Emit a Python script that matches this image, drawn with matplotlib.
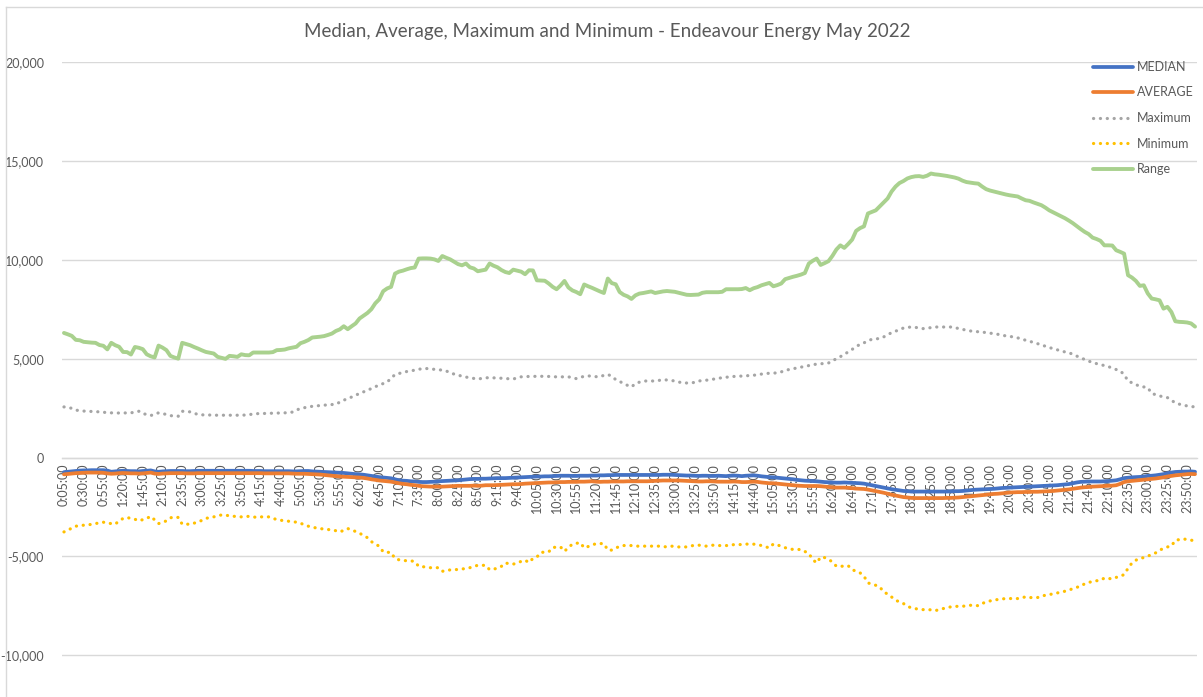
import matplotlib
matplotlib.use("Agg")
import matplotlib.pyplot as plt
import numpy as np

plt.rcParams['font.family'] = ['Lato', 'DejaVu Sans']

TITLE = "Median, Average, Maximum and Minimum - Endeavour Energy May 2022"

# 5-minute intervals 0:05 .. 0:00 (288 points)
times = []
for i in range(288):
    m = 5 * (i + 1)
    times.append(f"{(m // 60) % 24}:{m % 60:02d}:00")

median = [
    -740, -720, -700, -680, -660, -650, -650, -640, -640, -640, -640, -660,
    -720, -700, -680, -670, -680, -690, -690, -700, -680, -670, -650, -700,
    -720, -700, -690, -680, -680, -680, -680, -690, -690, -680, -670, -670,
    -670, -670, -670, -670, -670, -670, -670, -670, -670, -670, -670, -670,
    -680, -680, -680, -690, -690, -690, -690, -690, -690, -690, -700, -700,
    -690, -680, -680, -700, -710, -720, -730, -740, -750, -760, -770, -780,
    -800, -820, -840, -850, -870, -900, -930, -960, -990, -1010, -1030, -1050,
    -1100, -1150, -1170, -1180, -1200, -1210, -1230, -1240, -1240, -1230, -1220, -1200,
    -1190, -1180, -1170, -1160, -1150, -1130, -1110, -1090, -1080, -1080, -1070, -1070,
    -1060, -1050, -1040, -1040, -1040, -1030, -1020, -1010, -1000, -990, -980, -970,
    -960, -960, -950, -950, -940, -930, -920, -920, -920, -930, -930, -920,
    -920, -920, -910, -910, -900, -900, -890, -890, -880, -880, -880, -880,
    -880, -880, -880, -880, -880, -880, -880, -880, -870, -870, -870, -880,
    -890, -900, -910, -910, -920, -930, -920, -920, -930, -930, -920, -930,
    -940, -920, -910, -920, -940, -920, -910, -900, -920, -950, -970, -990,
    -1000, -1020, -1040, -1060, -1080, -1100, -1130, -1150, -1170, -1180, -1190, -1200,
    -1220, -1240, -1250, -1260, -1270, -1270, -1260, -1270, -1280, -1290, -1300, -1320,
    -1360, -1400, -1440, -1480, -1520, -1560, -1600, -1630, -1660, -1690, -1700, -1720,
    -1720, -1720, -1720, -1720, -1720, -1720, -1720, -1720, -1720, -1710, -1700, -1700,
    -1690, -1670, -1650, -1630, -1620, -1610, -1600, -1590, -1580, -1560, -1540, -1530,
    -1520, -1510, -1500, -1490, -1480, -1470, -1460, -1450, -1440, -1430, -1420, -1410,
    -1400, -1380, -1360, -1340, -1300, -1260, -1230, -1220, -1210, -1210, -1210, -1210,
    -1200, -1190, -1170, -1150, -1100, -1040, -1020, -1000, -990, -980, -960, -930,
    -920, -900, -870, -840, -790, -760, -730, -720, -710, -710, -700, -720,
]

average = [
    -850, -830, -810, -790, -780, -770, -760, -760, -760, -760, -770, -800,
    -820, -810, -790, -780, -790, -800, -800, -810, -800, -780, -760, -810,
    -830, -810, -800, -790, -790, -790, -790, -800, -800, -800, -790, -790,
    -790, -790, -790, -790, -790, -790, -790, -790, -790, -790, -790, -790,
    -790, -790, -790, -800, -800, -800, -800, -800, -800, -800, -810, -820,
    -820, -820, -830, -840, -850, -860, -880, -900, -920, -940, -960, -970,
    -980, -990, -1000, -1010, -1030, -1060, -1100, -1130, -1160, -1180, -1200, -1220,
    -1260, -1300, -1330, -1350, -1380, -1400, -1430, -1450, -1460, -1470, -1470, -1470,
    -1470, -1460, -1450, -1440, -1430, -1430, -1430, -1430, -1420, -1430, -1420, -1400,
    -1400, -1400, -1390, -1380, -1370, -1360, -1350, -1350, -1340, -1320, -1310, -1300,
    -1290, -1280, -1270, -1260, -1260, -1250, -1240, -1240, -1230, -1230, -1230, -1220,
    -1220, -1210, -1200, -1220, -1230, -1220, -1220, -1210, -1210, -1210, -1210, -1200,
    -1200, -1200, -1200, -1200, -1200, -1190, -1180, -1170, -1160, -1160, -1160, -1160,
    -1160, -1170, -1180, -1190, -1200, -1210, -1210, -1200, -1200, -1210, -1220, -1220,
    -1220, -1220, -1210, -1220, -1240, -1240, -1230, -1220, -1230, -1260, -1280, -1300,
    -1300, -1320, -1340, -1360, -1380, -1400, -1420, -1430, -1440, -1440, -1440, -1440,
    -1450, -1470, -1490, -1510, -1520, -1520, -1520, -1530, -1550, -1570, -1580, -1590,
    -1620, -1660, -1700, -1740, -1780, -1830, -1880, -1920, -1960, -2000, -2020, -2040,
    -2050, -2050, -2050, -2050, -2050, -2050, -2050, -2050, -2040, -2040, -2030, -2020,
    -2000, -1980, -1960, -1940, -1920, -1900, -1880, -1860, -1840, -1830, -1810, -1790,
    -1770, -1760, -1750, -1750, -1740, -1740, -1730, -1730, -1720, -1710, -1700, -1690,
    -1670, -1650, -1630, -1610, -1580, -1550, -1520, -1500, -1490, -1470, -1460, -1450,
    -1440, -1430, -1420, -1400, -1330, -1240, -1200, -1180, -1160, -1140, -1120, -1100,
    -1080, -1060, -1030, -1000, -960, -930, -900, -880, -860, -840, -830, -840,
]

maximum = [
    2560, 2530, 2490, 2400, 2370, 2350, 2340, 2330, 2320, 2310, 2290, 2270,
    2260, 2260, 2250, 2250, 2260, 2260, 2300, 2340, 2220, 2180, 2120, 2200,
    2260, 2220, 2180, 2120, 2100, 2090, 2340, 2330, 2310, 2250, 2170, 2160,
    2150, 2150, 2140, 2140, 2140, 2140, 2140, 2140, 2140, 2140, 2150, 2170,
    2200, 2220, 2220, 2230, 2240, 2240, 2250, 2250, 2260, 2270, 2300, 2400,
    2480, 2520, 2560, 2590, 2610, 2630, 2650, 2660, 2680, 2700, 2800, 2900,
    2980, 3060, 3150, 3240, 3320, 3400, 3490, 3580, 3670, 3740, 3820, 4000,
    4200, 4250, 4300, 4350, 4380, 4420, 4460, 4500, 4500, 4480, 4460, 4440,
    4420, 4380, 4280, 4220, 4170, 4110, 4070, 4030, 4000, 3970, 4000, 4030,
    4040, 4030, 4020, 4010, 4000, 3980, 3970, 4030, 4080, 4090, 4100, 4100,
    4110, 4110, 4100, 4100, 4090, 4080, 4080, 4080, 4080, 4040, 3990, 4050,
    4110, 4130, 4110, 4090, 4080, 4160, 4200, 4110, 3940, 3850, 3740, 3650,
    3570, 3740, 3810, 3870, 3870, 3870, 3870, 3900, 3940, 3920, 3900, 3870,
    3820, 3770, 3770, 3770, 3800, 3870, 3890, 3910, 3940, 3970, 4000, 4040,
    4060, 4080, 4100, 4110, 4120, 4130, 4150, 4160, 4190, 4220, 4250, 4260,
    4270, 4280, 4330, 4410, 4450, 4490, 4530, 4570, 4610, 4650, 4700, 4720,
    4740, 4760, 4780, 4900, 4990, 5100, 5220, 5340, 5470, 5600, 5730, 5800,
    5900, 5980, 6000, 6020, 6100, 6200, 6320, 6390, 6460, 6550, 6580, 6600,
    6580, 6560, 6520, 6540, 6570, 6600, 6600, 6600, 6600, 6600, 6580, 6520,
    6480, 6440, 6400, 6380, 6360, 6340, 6320, 6290, 6260, 6230, 6190, 6150,
    6120, 6100, 6050, 6000, 5930, 5880, 5820, 5760, 5700, 5630, 5560, 5510,
    5450, 5390, 5340, 5300, 5220, 5130, 5040, 4960, 4880, 4800, 4750, 4700,
    4650, 4600, 4520, 4450, 4380, 4200, 3870, 3780, 3690, 3600, 3570, 3540,
    3240, 3180, 3120, 3060, 3030, 2900, 2760, 2700, 2650, 2610, 2580, 2560,
]

minimum = [
    -3760, -3680, -3560, -3470, -3450, -3420, -3400, -3380, -3340, -3300, -3270, -3310,
    -3340, -3370, -3200, -3080, -3030, -3080, -3120, -3200, -3140, -3080, -2970, -3150,
    -3340, -3280, -3200, -3050, -3000, -3030, -3370, -3370, -3370, -3320, -3250, -3180,
    -3080, -3030, -3000, -2950, -2900, -2920, -2940, -2970, -2980, -3000, -2990, -2970,
    -3000, -3030, -3000, -3000, -3000, -3080, -3130, -3170, -3200, -3220, -3240, -3270,
    -3320, -3400, -3470, -3520, -3560, -3590, -3620, -3640, -3660, -3700, -3760, -3680,
    -3590, -3660, -3740, -3820, -3950, -4050, -4250, -4380, -4480, -4770, -4790, -4800,
    -5110, -5170, -5200, -5220, -5220, -5260, -5500, -5520, -5540, -5570, -5570, -5570,
    -5750, -5720, -5680, -5670, -5660, -5640, -5600, -5570, -5500, -5450, -5450, -5450,
    -5670, -5640, -5600, -5500, -5330, -5370, -5390, -5330, -5250, -5190, -5310, -5100,
    -5030, -4800, -4780, -4770, -4550, -4530, -4520, -4740, -4550, -4380, -4340, -4300,
    -4570, -4500, -4430, -4350, -4350, -4350, -4680, -4680, -4570, -4500, -4450, -4450,
    -4450, -4480, -4480, -4480, -4480, -4480, -4480, -4480, -4500, -4520, -4480, -4490,
    -4520, -4520, -4520, -4480, -4430, -4430, -4450, -4480, -4440, -4430, -4450, -4450,
    -4450, -4450, -4400, -4400, -4400, -4380, -4370, -4380, -4400, -4450, -4510, -4570,
    -4370, -4420, -4480, -4560, -4600, -4650, -4650, -4650, -4750, -4850, -5160, -5330,
    -5030, -5060, -5150, -5280, -5500, -5500, -5490, -5470, -5670, -5750, -5830, -6000,
    -6340, -6400, -6460, -6540, -6800, -6900, -7050, -7210, -7300, -7380, -7520, -7600,
    -7640, -7670, -7690, -7690, -7700, -7740, -7700, -7640, -7600, -7550, -7530, -7520,
    -7520, -7500, -7470, -7480, -7490, -7380, -7300, -7250, -7200, -7180, -7150, -7130,
    -7130, -7130, -7130, -7100, -7040, -7080, -7080, -7080, -7020, -6960, -6930, -6890,
    -6850, -6800, -6760, -6700, -6630, -6560, -6510, -6380, -6320, -6260, -6230, -6210,
    -6090, -6110, -6140, -6060, -6000, -5920, -5600, -5330, -5190, -5100, -5060, -4990,
    -4900, -4820, -4680, -4600, -4520, -4480, -4180, -4150, -4110, -4150, -4180, -4200,
]

range_vals = [
    6300, 6230, 6150, 5950, 5930, 5850, 5830, 5810, 5800, 5690, 5650, 5470,
    5800, 5680, 5600, 5340, 5330, 5210, 5590, 5550, 5480, 5220, 5120, 5060,
    5660, 5560, 5430, 5140, 5060, 5000, 5800, 5740, 5680, 5590, 5510, 5420,
    5340, 5300, 5260, 5090, 5040, 4990, 5140, 5120, 5090, 5220, 5180, 5170,
    5310, 5310, 5310, 5310, 5310, 5330, 5430, 5440, 5460, 5520, 5560, 5600,
    5780, 5850, 5940, 6070, 6090, 6110, 6140, 6200, 6270, 6400, 6480, 6640,
    6490, 6640, 6780, 7030, 7170, 7310, 7500, 7800, 8000, 8410, 8550, 8630,
    9300, 9400, 9450, 9520, 9580, 9610, 10060, 10070, 10070, 10060, 10020, 9940,
    10190, 10100, 10020, 9900, 9780, 9720, 9810, 9620, 9560, 9420, 9460, 9500,
    9810, 9700, 9620, 9480, 9380, 9330, 9500, 9450, 9400, 9270, 9470, 9460,
    8960, 8950, 8940, 8800, 8630, 8510, 8700, 8930, 8600, 8450, 8370, 8260,
    8750, 8660, 8580, 8490, 8400, 8320, 9050, 8820, 8760, 8370, 8230, 8150,
    8020, 8200, 8290, 8320, 8360, 8400, 8320, 8360, 8400, 8420, 8400, 8380,
    8330, 8280, 8230, 8220, 8230, 8240, 8330, 8360, 8360, 8360, 8360, 8380,
    8510, 8510, 8510, 8510, 8520, 8570, 8460, 8560, 8620, 8710, 8770, 8830,
    8660, 8720, 8800, 9020, 9080, 9140, 9190, 9250, 9330, 9810, 9950, 10060,
    9740, 9830, 9930, 10200, 10520, 10730, 10600, 10800, 11020, 11460, 11600, 11690,
    12340, 12420, 12500, 12700, 12900, 13100, 13450, 13700, 13880, 13980, 14110, 14180,
    14220, 14230, 14190, 14250, 14360, 14320, 14300, 14270, 14240, 14200, 14160, 14100,
    14000, 13930, 13900, 13870, 13850, 13700, 13570, 13500, 13450, 13400, 13350, 13300,
    13260, 13230, 13200, 13100, 13010, 12980, 12900, 12830, 12760, 12640, 12500, 12400,
    12300, 12200, 12100, 11980, 11850, 11700, 11550, 11410, 11300, 11120, 11050, 10960,
    10730, 10730, 10720, 10480, 10400, 10310, 9220, 9100, 8930, 8680, 8710, 8300,
    8040, 8000, 7950, 7530, 7620, 7360, 6890, 6860, 6850, 6830, 6780, 6620,
]

y_ticks = [-10000, -5000, 0, 5000, 10000, 15000, 20000]

TXT = '#595959'
GRID = '#D9D9D9'

fig = plt.figure(figsize=(12.03, 6.97), dpi=100)
# axes: 20,000 at y=62px, -10,000 at y=655px -> bottom (-15,000) below the picture
ax = fig.add_axes([62 / 1203, 1 - 754.2 / 697, (1197 - 62) / 1203, (754.2 - 62) / 697])

x = np.arange(len(times))
dot = (0, (0.05, 2.1))
ax.plot(x, median, color='#4472C4', lw=2.7, label='MEDIAN', zorder=3, solid_capstyle='round')
ax.plot(x, average, color='#ED7D31', lw=2.7, label='AVERAGE', zorder=4, solid_capstyle='round')
ax.plot(x, maximum, color='#A5A5A5', lw=2.3, ls=dot, dash_capstyle='round', label='Maximum', zorder=5)
ax.plot(x, minimum, color='#FFC000', lw=2.3, ls=dot, dash_capstyle='round', label='Minimum', zorder=6)
ax.plot(x, range_vals, color='#A9D18E', lw=2.8, label='Range', zorder=7, solid_capstyle='round')

ax.set_xlim(-0.5, len(times) - 0.5)
ax.set_ylim(-15000, 20000)
ax.set_yticks(y_ticks)
ax.set_yticklabels([f"{v:,}" for v in y_ticks])
ax.set_yticks([-15000], minor=True)
ax.yaxis.grid(True, which='both', color=GRID, lw=1)
ax.set_axisbelow(True)

ax.set_xticks(x[::5])
ax.set_xticklabels(times[::5])

for s in ['top', 'right', 'left']:
    ax.spines[s].set_visible(False)
ax.spines['bottom'].set_position(('data', 0))
ax.spines['bottom'].set_color(GRID)
ax.spines['bottom'].set_linewidth(1)
ax.tick_params(axis='both', which='both', length=0, colors=TXT, labelsize=9)
ax.tick_params(axis='y', pad=13)
ax.tick_params(axis='x', pad=4, labelrotation=90)
for lbl in ax.get_xticklabels():
    lbl.set_verticalalignment('top')
    lbl.set_horizontalalignment('center')

fig.text(0.505, 1 - 32 / 697, TITLE, ha='center', va='center', fontsize=13.5, color=TXT)

leg = ax.legend(loc='upper left', bbox_to_anchor=(1093 / 1203, 1 - 61 / 697),
                bbox_transform=fig.transFigure, frameon=False, fontsize=9,
                handlelength=3.2, handletextpad=0.3, labelspacing=1.08,
                borderpad=0, borderaxespad=0)
for t in leg.get_texts():
    t.set_color(TXT)

# chart area border (left / top edges visible in the reference)
fig.add_artist(plt.Line2D([6 / 1203, 6 / 1203], [0, 1 - 7 / 697], color=GRID, lw=1))
fig.add_artist(plt.Line2D([6 / 1203, 1], [1 - 7 / 697, 1 - 7 / 697], color=GRID, lw=1))

fig.savefig('out.png', dpi=100)
